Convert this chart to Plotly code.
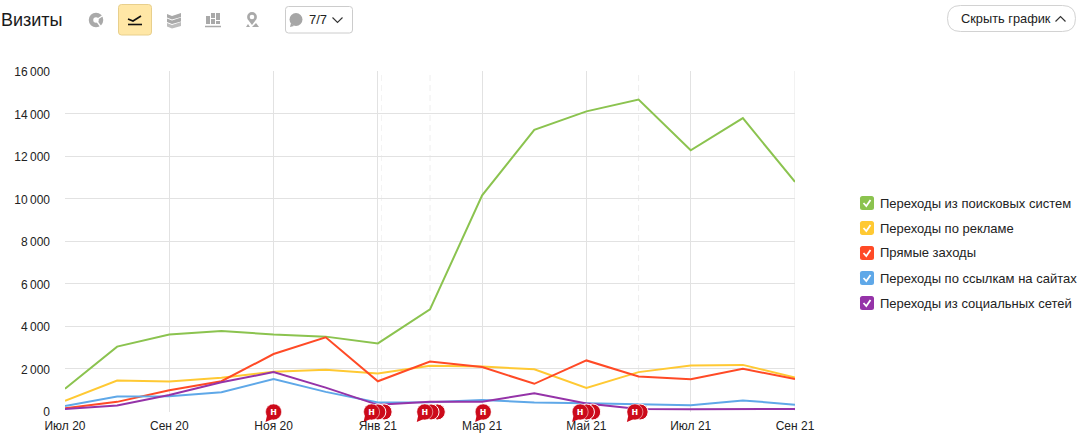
import plotly.graph_objects as go

W, H = 1083, 440
FONT = "Liberation Sans, Arial, sans-serif"

# ---- data ----
months = ["Июл 20", "Авг 20", "Сен 20", "Окт 20", "Ноя 20", "Дек 20", "Янв 21", "Фев 21",
          "Мар 21", "Апр 21", "Май 21", "Июн 21", "Июл 21", "Авг 21", "Сен 21"]
tick_labels = months[0::2]
y_ticks = [0, 2000, 4000, 6000, 8000, 10000, 12000, 14000, 16000]
y_labels = ["0", "2\u2009000", "4\u2009000", "6\u2009000", "8\u2009000",
            "10\u2009000", "12\u2009000", "14\u2009000", "16\u2009000"]

search = [1050, 3030, 3600, 3770, 3600, 3500, 3180, 4780, 10150, 13230, 14100, 14660, 12270, 13780, 10780]
ads = [480, 1430, 1390, 1560, 1850, 1940, 1760, 2130, 2090, 1960, 1090, 1830, 2140, 2170, 1580]
direct = [130, 430, 980, 1400, 2680, 3470, 1400, 2330, 2070, 1280, 2380, 1620, 1500, 1990, 1500]
links = [230, 680, 700, 880, 1510, 900, 400, 410, 520, 400, 370, 330, 270, 500, 300]
social = [100, 260, 750, 1350, 1830, 1100, 290, 430, 440, 830, 350, 100, 80, 100, 100]

series_names = ["Переходы из поисковых систем", "Переходы по рекламе", "Прямые заходы",
                "Переходы по ссылкам на сайтах", "Переходы из социальных сетей"]
series_values = [search, ads, direct, links, social]
series_colors = ["#8bc34f", "#ffc933", "#ff4a26", "#5fa8e8", "#9533a8"]

# note bubbles: front bubble position in months since Июл 20, and stacked bubbles behind
note_x = [4.0, 5.88, 6.9, 8.02, 9.88, 10.93]
note_back = [[], [6.0, 6.12], [7.02, 7.14], [], [10.0, 10.12], [11.03]]
note_y = -45

# ---- layout helpers ----
LEFT, RIGHT, TOP, BOTTOM = 65, 795, 71, 412
Y_MIN, Y_MAX = -47, 16000
def px(x): return x / W
def py(y): return 1 - y / H
def path(cmds):
    out = []
    for c in cmds:
        if isinstance(c, str):
            out.append(c)
        else:
            out.append(f"{px(c[0]):.5f},{py(c[1]):.5f}")
    return " ".join(out)

shapes, annotations = [], []
def poly(points, fill=None, line=None, width=1, close=False, layer="above"):
    cmds = ["M", points[0]]
    for p in points[1:]:
        cmds += ["L", p]
    if close:
        cmds.append("Z")
    shapes.append(dict(type="path", xref="paper", yref="paper", path=path(cmds), layer=layer,
                       fillcolor=fill or "rgba(0,0,0,0)",
                       line=dict(color=line or "rgba(0,0,0,0)", width=width if line else 0)))
def rect(x0, y0, x1, y1, fill=None, line=None, width=1, r=0):
    cmds = ["M", (x0 + r, y0), "L", (x1 - r, y0), "Q", (x1, y0), (x1, y0 + r), "L", (x1, y1 - r),
            "Q", (x1, y1), (x1 - r, y1), "L", (x0 + r, y1), "Q", (x0, y1), (x0, y1 - r), "L", (x0, y0 + r),
            "Q", (x0, y0), (x0 + r, y0), "Z"]
    shapes.append(dict(type="path", xref="paper", yref="paper", path=path(cmds), layer="above",
                       fillcolor=fill or "rgba(0,0,0,0)",
                       line=dict(color=line or "rgba(0,0,0,0)", width=width if line else 0)))
def circle(cx, cy, r, fill=None, line=None, width=1):
    shapes.append(dict(type="circle", xref="paper", yref="paper", layer="above",
                       x0=px(cx - r), x1=px(cx + r), y0=py(cy + r), y1=py(cy - r),
                       fillcolor=fill or "rgba(0,0,0,0)",
                       line=dict(color=line or "rgba(0,0,0,0)", width=width if line else 0)))
def text(x, y, s, size=12, color="#222222", anchor="left"):
    annotations.append(dict(xref="paper", yref="paper", x=px(x), y=py(y), text=s, showarrow=False,
                            xanchor=anchor, yanchor="middle", font=dict(family=FONT, size=size, color=color),
                            borderpad=0, borderwidth=0))

# ---- header ----
text(1, 20, "Визиты", size=18, color="#1a1a1a")
GREY = "#a9a9a9"
# pie icon
circle(96, 20, 5, line=GREY, width=4.5)
poly([(96, 20), (103, 15.5)], line="#ffffff", width=1.4)
poly([(96, 20), (101, 27)], line="#ffffff", width=1.4)
# active line button
rect(118.5, 4.5, 151.5, 35, fill="#ffe7a6", line="#e8cf8c", r=3)
poly([(128, 19), (133, 21), (141, 16)], line="#111111", width=1.6)
poly([(128, 24.5), (142, 24.5)], line="#111111", width=1.6)
# stacked area icon
for dy, c in ((0, GREY), (4.5, GREY), (9, "#bdbdbd")):
    poly([(167, 14 + dy), (172, 16 + dy), (181, 13 + dy), (181, 17 + dy), (172, 19.5 + dy), (167, 17.5 + dy)],
         fill=c, close=True)
# bars icon
for x0, x1, y0, y1 in ((206, 210, 16, 24), (211, 215, 13, 18), (211, 215, 19, 24),
                       (216, 220, 13, 20), (216, 220, 21, 24)):
    rect(x0, y0, x1, y1, fill=GREY)
poly([(205, 26.5), (221, 26.5)], line=GREY, width=1.5)
# map icon
circle(252, 17, 3.6, line=GREY, width=2.6)
poly([(249, 21), (255, 21), (252, 25)], fill=GREY, close=True)
poly([(246, 27), (248, 24), (250, 27)], fill=GREY, close=True)
poly([(252, 27), (256, 23), (259, 27)], fill=GREY, close=True)
# notes dropdown
rect(285.5, 6.5, 352.5, 33, fill="#ffffff", line="#cccccc", r=3)
circle(296, 19.5, 6.5, fill="#a6a6a6")
poly([(291, 23), (294, 26), (290, 27)], fill="#a6a6a6", close=True)
text(309, 19.5, "7/7", size=13)
poly([(332.5, 17.5), (337.5, 22.5), (342.5, 17.5)], line="#333333", width=1.1)
# hide chart button
rect(947.5, 5.5, 1075.5, 31.5, fill="#ffffff", line="#d2d2d2", r=13)
text(961, 18.5, "Скрыть график", size=12.8)
poly([(1055.5, 21.5), (1060.5, 16.5), (1065.5, 21.5)], line="#333333", width=1.2)

# ---- legend ----
legend_y = [203, 228, 253, 278, 303]
for name, color, y in zip(series_names, series_colors, legend_y):
    rect(860, y - 7, 874, y + 7, fill=color, r=2.5)
    poly([(863.5, y), (866.3, y + 3), (870.5, y - 3)], line="#ffffff", width=1.8)
    text(880, y, name, size=13)

# ---- dashed year/period guides ----
for xi, c in ((6.07, "#f3f3f3"), (7.0, "#eeeeee"), (11.0, "#eeeeee")):
    shapes.append(dict(type="line", xref="x", yref="y", x0=xi, x1=xi, y0=0, y1=16000, layer="below",
                       line=dict(color=c, width=1, dash="6px,4px")))
shapes.append(dict(type="line", xref="x", yref="y", x0=14, x1=14, y0=0, y1=16000, layer="below",
                   line=dict(color="#e5e5e5", width=1)))

# ---- note bubble tails ----
NOTE_RED = "#cc0a1a"
idx_to_px = (RIGHT - LEFT) / 14
for nx in note_x:
    cx = LEFT + nx * idx_to_px
    poly([(cx - 6.5, 415), (cx - 8, 422), (cx - 1, 419)], fill=NOTE_RED, close=True)

# ---- figure ----
fig = go.Figure()
xs = list(range(len(months)))
for name, vals, color in zip(series_names, series_values, series_colors):
    fig.add_trace(go.Scatter(x=xs, y=vals, mode="lines", name=name,
                             line=dict(color=color, width=2), showlegend=False))

back_x = [x for group in note_back for x in reversed(group)]
fig.add_trace(go.Scatter(x=back_x, y=[note_y] * len(back_x), mode="markers", showlegend=False, cliponaxis=False,
                         marker=dict(size=16, color=NOTE_RED, line=dict(color="#ffffff", width=1))))
fig.add_trace(go.Scatter(x=note_x, y=[note_y] * len(note_x), mode="markers+text", showlegend=False,
                         cliponaxis=False, text=["н"] * len(note_x), textposition="middle center",
                         textfont=dict(family=FONT, size=11, color="#ffffff", weight="bold"),
                         marker=dict(size=16, color=NOTE_RED, line=dict(color="#ffffff", width=0.5))))

fig.update_layout(
    width=W, height=H, autosize=False,
    margin=dict(l=0, r=0, t=0, b=0),
    paper_bgcolor="#ffffff", plot_bgcolor="#ffffff",
    font=dict(family=FONT, size=12, color="#222222"),
    shapes=shapes, annotations=annotations, hovermode=False,
    xaxis=dict(domain=[px(LEFT), px(RIGHT)], range=[0, 14], tickmode="array", automargin=False,
               tickvals=xs[0::2], ticktext=tick_labels, showgrid=True, gridcolor="#e2e2e2", gridwidth=1,
               zeroline=False, showline=False, ticks="", ticklabelstandoff=5,
               tickfont=dict(family=FONT, size=12, color="#222222")),
    yaxis=dict(domain=[py(BOTTOM), py(TOP)], range=[Y_MIN, Y_MAX], tickmode="array", automargin=False,
               tickvals=y_ticks, ticktext=y_labels, showgrid=True, gridcolor="#e2e2e2", gridwidth=1,
               zeroline=False, showline=False, ticks="", ticklabelstandoff=14, ticklabelshift=1,
               tickfont=dict(family=FONT, size=12, color="#222222")),
)

fig.write_html("out.html", config=dict(displayModeBar=False),
               post_script="document.body.style.margin='0';document.body.style.overflow='hidden';")
